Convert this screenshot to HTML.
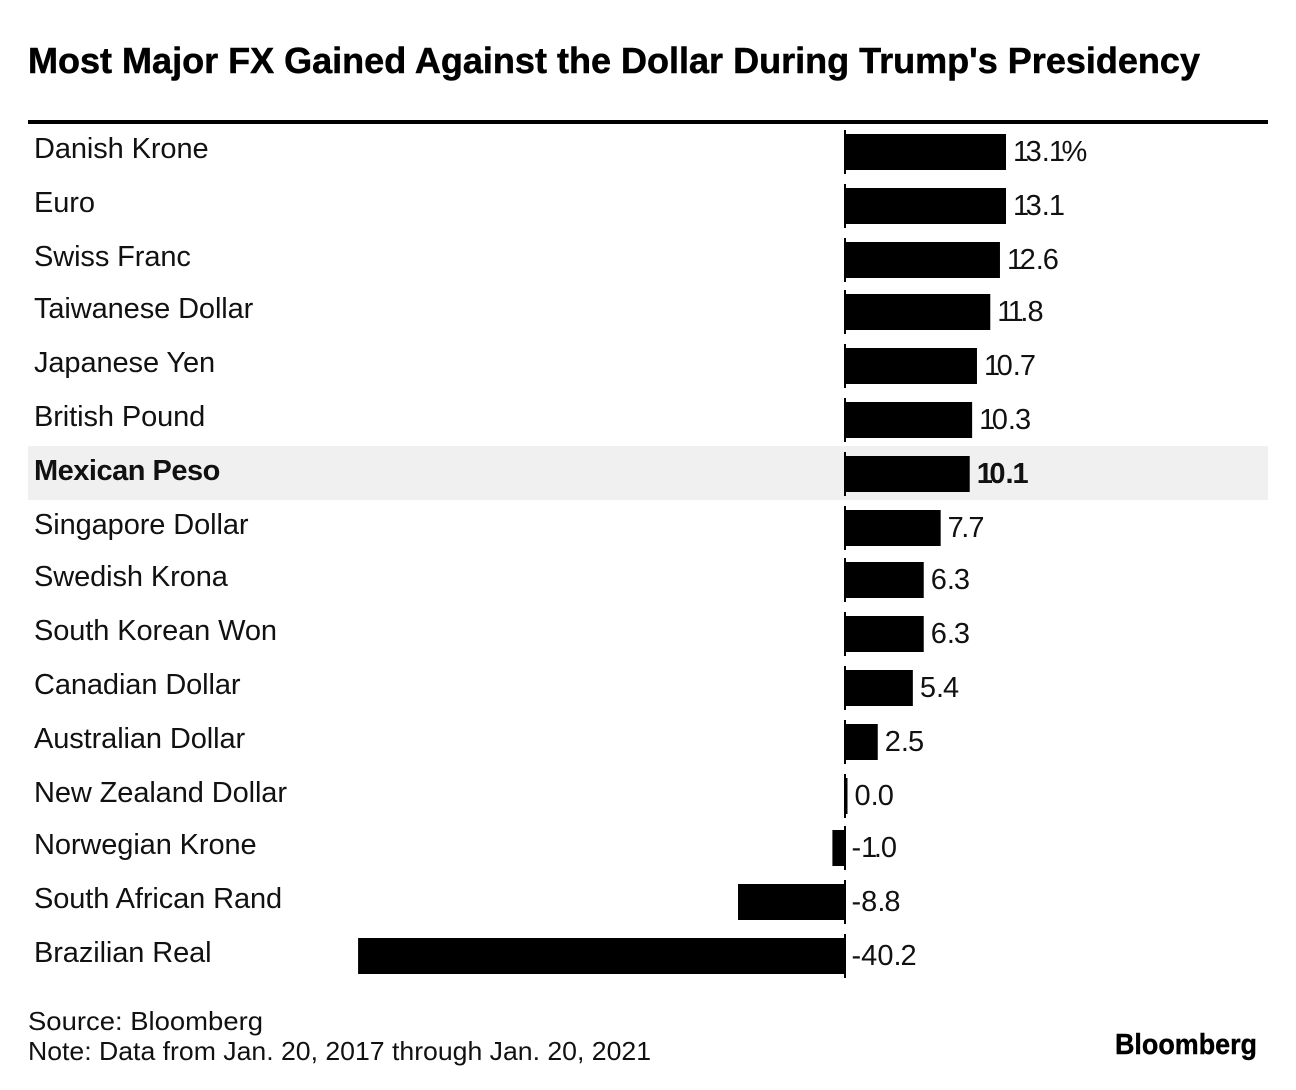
<!DOCTYPE html>
<html lang="en">
<head>
<meta charset="utf-8">
<title>Most Major FX Gained Against the Dollar During Trump's Presidency</title>
<style>
html,body{margin:0;padding:0;background:#fff}
svg{display:block;font-family:"Liberation Sans",Arial,sans-serif}
</style>
</head>
<body>
<svg id="chart" width="1296" height="1090" viewBox="0 0 1296 1090" xmlns="http://www.w3.org/2000/svg">
  <rect x="0" y="0" width="1296" height="1090" fill="#fff"/>
  <text x="28" y="73" font-size="36" font-weight="700" fill="#000" stroke="#000" stroke-width="0.5" textLength="1172" lengthAdjust="spacingAndGlyphs">Most Major FX Gained Against the Dollar During Trump's Presidency</text>
  <rect x="28" y="120" width="1240" height="4" fill="#000"/>
  <g id="rows"></g>
  <text x="28" y="1030" font-size="26" fill="#111" textLength="235" lengthAdjust="spacingAndGlyphs">Source: Bloomberg</text>
  <text x="28" y="1060" font-size="26" fill="#111" textLength="623" lengthAdjust="spacingAndGlyphs">Note: Data from Jan. 20, 2017 through Jan. 20, 2021</text>
  <text x="1115" y="1054" font-size="29" font-weight="700" fill="#000" stroke="#000" stroke-width="0.4" textLength="142" lengthAdjust="spacingAndGlyphs">Bloomberg</text>
</svg>
<script>
const categories = ["Danish Krone","Euro","Swiss Franc","Taiwanese Dollar","Japanese Yen","British Pound","Mexican Peso","Singapore Dollar","Swedish Krona","South Korean Won","Canadian Dollar","Australian Dollar","New Zealand Dollar","Norwegian Krone","South African Rand","Brazilian Real"];
const values = [13.1,13.1,12.6,11.8,10.7,10.3,10.1,7.7,6.3,6.3,5.4,2.5,0.0,-1.0,-8.8,-40.2];
const valueLabels = ["13.1%","13.1","12.6","11.8","10.7","10.3","10.1","7.7","6.3","6.3","5.4","2.5","0.0","-1.0","-8.8","-40.2"];
const highlighted = ["Mexican Peso"];

const NS = "http://www.w3.org/2000/svg";
const rowsGroup = document.getElementById("rows");
const zeroX = 844.5;
const unit = 12.1;
const stub = 3;
const barHeight = 36;

function xScale(v) {
  return v >= 0 ? zeroX + stub + v * unit : zeroX + v * unit;
}
function yScale(i) {
  return 134 + 54 * i - 2 * Math.floor((i + 2) / 5);
}
function glyphTightening(label) {
  return Array.from(label).map(function (ch, k, all) {
    const prev = all[k - 1];
    if (prev === "1") return -3.5;
    if (prev === "7") return -2.5;
    if (prev === ".") return -1;
    return 0;
  }).join(" ");
}
function make(tag, attrs) {
  const el = document.createElementNS(NS, tag);
  for (const k in attrs) el.setAttribute(k, attrs[k]);
  rowsGroup.appendChild(el);
  return el;
}

categories.forEach(function (name, i) {
  const v = values[i];
  const top = yScale(i);
  const bold = highlighted.includes(name);
  const slug = name.toLowerCase().replace(/\s+/g, "-");

  if (bold) {
    const band = make("rect", {x: 28, y: top - 10, width: 1240, height: 54, fill: "#f0f0f0"});
    
    
  }

  const label = make("text", {x: 34, y: top + 24, "font-size": 29, fill: "#111", "font-weight": bold ? 700 : 400, "letter-spacing": bold ? "-0.5" : "-0.1"});
  label.textContent = name;
  
  

  const end = xScale(v);
  const left = Math.min(zeroX, end);
  const bar = make("rect", {x: left, y: top, width: Math.abs(end - zeroX), height: barHeight, fill: "#000"});
  
  

  const axis = make("rect", {x: 844, y: top - 4, width: 2, height: barHeight + 8, fill: "#000"});
  
  

  const valueX = (v >= 0 ? end : zeroX) + 7;
  const valueText = make("text", {x: valueX, y: top + 27, "font-size": 29, fill: "#111", "font-weight": bold ? 700 : 400, dx: glyphTightening(valueLabels[i])});
  valueText.textContent = valueLabels[i];
  
  
});
</script>
</body>
</html>
